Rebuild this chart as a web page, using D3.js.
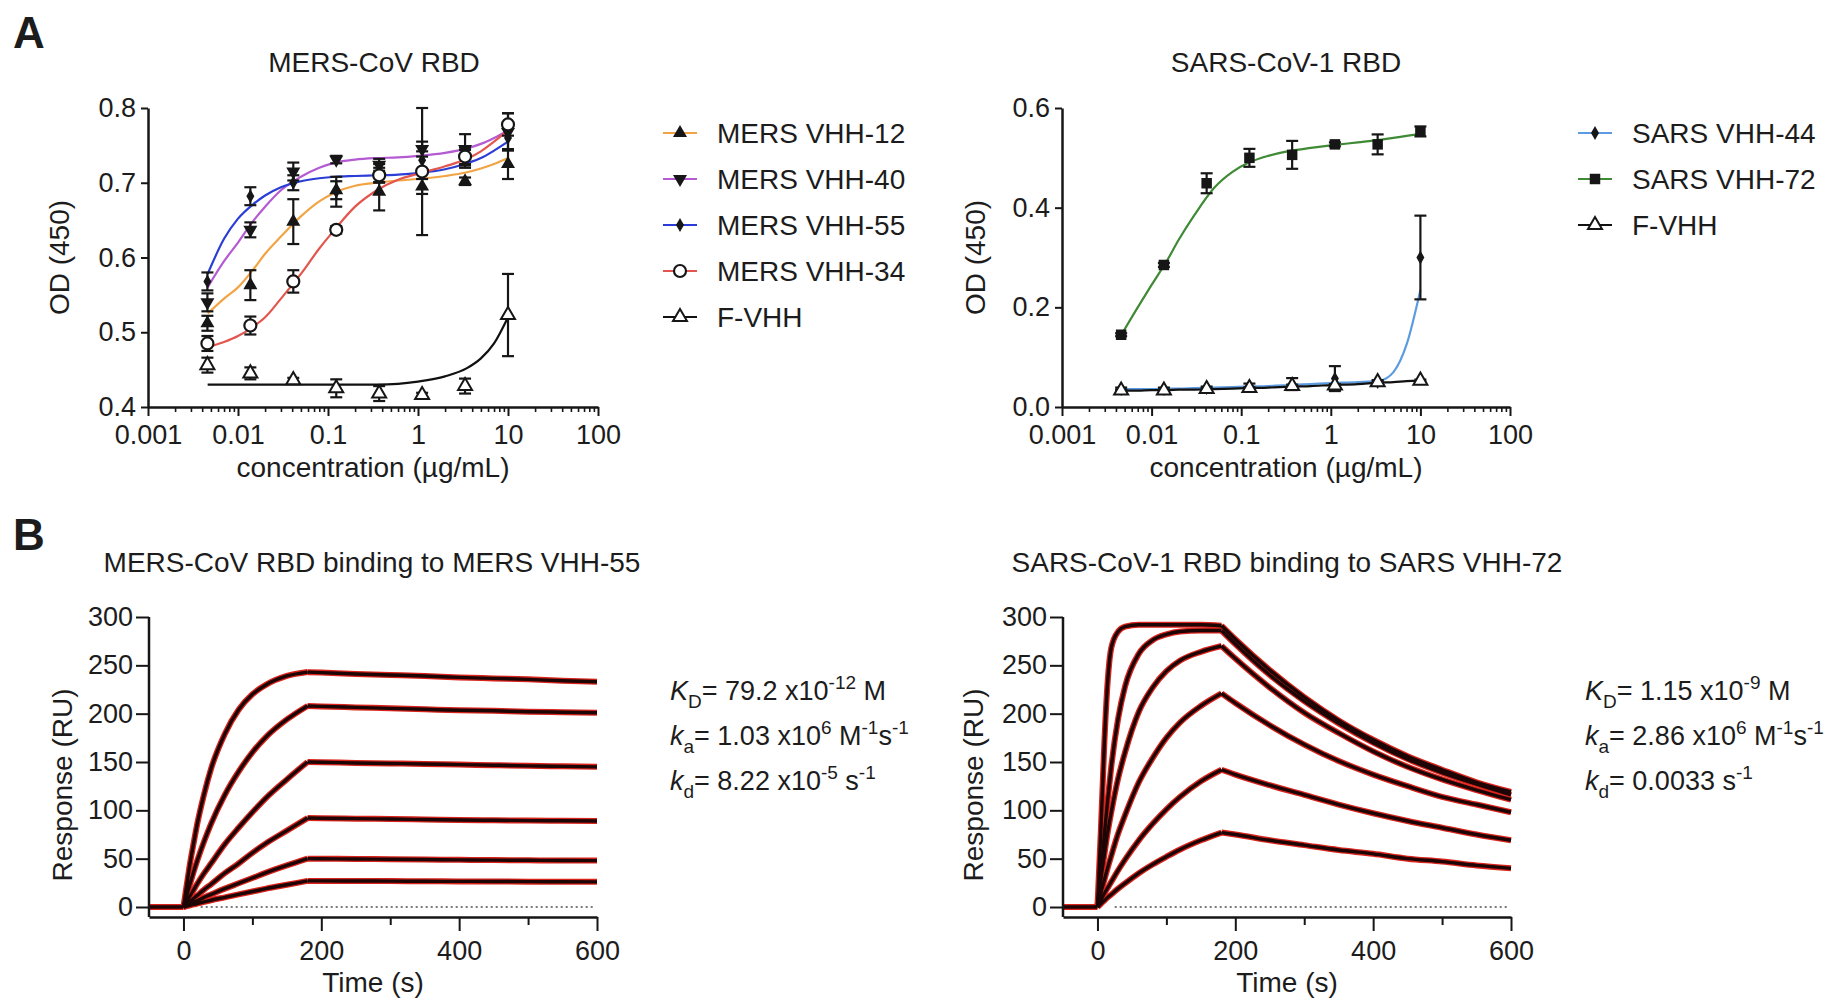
<!DOCTYPE html>
<html>
<head>
<meta charset="utf-8">
<script src="https://cdn.jsdelivr.net/npm/d3@7"></script>
<style>
    body { margin: 0; background: #fff; }
    svg { display: block; font-family: "Liberation Sans", Arial, Helvetica, sans-serif; }
</style>
</head>
<body>
<svg id="fig" width="1846" height="1003"></svg>
<script>
'use strict';

// ---- panel A : ELISA ----
var concentrations = [0.004572, 0.01372, 0.04115, 0.1235, 0.3704, 1.111, 3.333, 10];
var decadeTicks = [0.001, 0.01, 0.1, 1, 10, 100];
var fitConc = [0.0046, 0.007, 0.01, 0.015, 0.02, 0.03, 0.05, 0.08, 0.12, 0.2, 0.35, 0.6, 1, 2, 3.5, 5, 7, 10];

var mersNames = ['MERS VHH-12', 'MERS VHH-40', 'MERS VHH-55', 'MERS VHH-34', 'F-VHH'];
var mersColors = ['#f2a444', '#b45ad2', '#2a3ed6', '#e2564e', '#111111'];
var mersShapes = ['up', 'down', 'diamond', 'circle', 'opentri'];
var mersMeans = [
    [0.512, 0.563, 0.648, 0.690, 0.688, 0.695, 0.702, 0.725],
    [0.540, 0.637, 0.715, 0.731, 0.724, 0.745, 0.745, 0.768],
    [0.568, 0.682, 0.700, 0.688, 0.713, 0.730, 0.732, 0.760],
    [0.485, 0.509, 0.568, 0.637, 0.710, 0.715, 0.735, 0.778],
    [0.456, 0.445, 0.436, 0.425, 0.418, 0.416, 0.428, 0.523]
];
var mersSd = [
    [0.010, 0.020, 0.030, 0.012, 0.025, 0.010, 0.005, 0.020],
    [0.012, 0.010, 0.012, 0.005, 0.008, 0.010, 0.020, 0.025],
    [0.012, 0.012, 0.010, 0.020, 0.012, 0.012, 0.012, 0.015],
    [0.010, 0.012, 0.015, 0.005, 0.010, 0.085, 0.012, 0.015],
    [0.010, 0.008, 0.003, 0.012, 0.010, 0.003, 0.010, 0.055]
];
var mersFits = [
    [0.525, 0.545, 0.560, 0.585, 0.605, 0.628, 0.655, 0.675, 0.687, 0.696, 0.700, 0.703, 0.705, 0.709, 0.714, 0.719, 0.725, 0.733],
    [0.560, 0.595, 0.620, 0.650, 0.668, 0.690, 0.708, 0.720, 0.727, 0.731, 0.733, 0.734, 0.736, 0.740, 0.746, 0.752, 0.760, 0.770],
    [0.578, 0.625, 0.652, 0.672, 0.683, 0.694, 0.702, 0.706, 0.708, 0.709, 0.710, 0.711, 0.713, 0.718, 0.726, 0.733, 0.743, 0.755],
    [0.480, 0.487, 0.495, 0.508, 0.520, 0.545, 0.578, 0.612, 0.638, 0.668, 0.690, 0.704, 0.712, 0.722, 0.732, 0.742, 0.755, 0.770],
    [0.430, 0.430, 0.430, 0.430, 0.430, 0.430, 0.430, 0.430, 0.430, 0.430, 0.430, 0.431, 0.434, 0.441, 0.452, 0.465, 0.485, 0.520]
];
var mersTicks = [0.4, 0.5, 0.6, 0.7, 0.8];

var sarsNames = ['SARS VHH-44', 'SARS VHH-72', 'F-VHH'];
var sarsColors = ['#5d9be0', '#3f8a34', '#111111'];
var sarsShapes = ['diamond', 'square', 'opentri'];
var sarsMeans = [
    [0.036, 0.036, 0.038, 0.042, 0.046, 0.057, 0.050, 0.300],
    [0.145, 0.285, 0.449, 0.500, 0.506, 0.527, 0.527, 0.553],
    [0.033, 0.033, 0.036, 0.038, 0.042, 0.043, 0.050, 0.053]
];
var sarsSd = [
    [0.003, 0.003, 0.003, 0.005, 0.012, 0.025, 0.004, 0.084],
    [0.003, 0.004, 0.020, 0.018, 0.028, 0.004, 0.020, 0.010],
    [0.002, 0.002, 0.002, 0.002, 0.003, 0.003, 0.002, 0.002]
];
var sarsFits = [
    [0.036, 0.036, 0.036, 0.037, 0.037, 0.038, 0.039, 0.040, 0.041, 0.042, 0.044, 0.046, 0.048, 0.050, 0.053, 0.070, 0.125, 0.235],
    [0.145, 0.200, 0.245, 0.295, 0.335, 0.385, 0.440, 0.472, 0.490, 0.504, 0.514, 0.520, 0.525, 0.531, 0.536, 0.540, 0.544, 0.548],
    [0.033, 0.033, 0.034, 0.034, 0.035, 0.035, 0.036, 0.037, 0.038, 0.039, 0.041, 0.042, 0.044, 0.046, 0.049, 0.050, 0.052, 0.053]
];
var sarsTicks = [0.0, 0.2, 0.4, 0.6];

// ---- panel B : SPR sensorgrams ----
var assocTime = [0, 5, 10, 15, 20, 30, 40, 60, 80, 100, 120, 150, 180];
var dissocTime = [200, 250, 300, 350, 400, 450, 500, 550, 600];
var timeTicks = [0, 200, 400, 600];
var timeMinor = [100, 300, 500];
var ruTicks = [0, 50, 100, 150, 200, 250, 300];

var mersAssoc = [
    [0, 24, 47, 67, 86, 117, 143, 179, 204, 220, 230, 239, 243],
    [0, 13, 25, 37, 48, 68, 86, 116, 140, 160, 176, 194, 208],
    [0, 6, 12, 18, 24, 35, 45, 65, 82, 98, 113, 132, 150],
    [0, 3, 6, 9, 12, 18, 23.5, 35, 45, 56, 66, 79, 92],
    [0, 1.7, 3.3, 5, 6.5, 10, 13, 19, 24.5, 30, 35.5, 43, 50],
    [0, 0.9, 1.8, 2.7, 3.5, 5.3, 7, 10, 13, 16, 19, 23, 27]
];
var mersDissoc = [
    [242.5, 241, 240, 239, 237.5, 236.5, 235.5, 234, 233],
    [207.5, 206.5, 205.5, 204.5, 203.5, 203, 202, 201.5, 201],
    [149.8, 149, 148.5, 148, 147.3, 146.7, 146, 145.5, 145],
    [91.8, 91.4, 91, 90.5, 90, 89.7, 89.4, 89.2, 89],
    [49.9, 49.7, 49.4, 49.1, 48.8, 48.5, 48.3, 48.1, 48],
    [27, 26.9, 26.8, 26.6, 26.5, 26.4, 26.2, 26.1, 26]
];
var sarsAssoc = [
    [0, 80, 170, 235, 268, 285, 290, 292, 292, 292, 292, 292, 291],
    [0, 35, 75, 112, 145, 195, 228, 262, 276, 282, 285, 286, 286],
    [0, 29, 54, 78, 98, 133, 160, 202, 227, 244, 255, 264, 270],
    [0, 15, 28, 41, 53, 76, 95, 129, 154, 175, 191, 208, 221],
    [0, 7, 14, 20, 26, 38, 49, 69, 86, 101, 114, 130, 142],
    [0, 3.4, 6.7, 10, 13, 19, 24.5, 35, 44, 52, 59.5, 69, 77]
];
var sarsDissoc = [
    [277, 245, 217, 193, 173, 156, 142, 129, 119],
    [272, 240, 213, 190, 170, 153, 139, 127, 116],
    [257, 227, 201, 180, 161, 145, 132, 121, 111],
    [211, 188, 168, 151, 137, 125, 114, 106, 98],
    [137, 126, 116, 106, 97, 89, 82, 75, 69],
    [75, 69, 64, 59, 55, 50, 47, 43, 40]
];

var mersKinetics = [
    [['K', 'i'], ['D', 'sub'], ['= 79.2 x10', 'n'], ['-12', 'sup'], [' M', 'n']],
    [['k', 'i'], ['a', 'sub'], ['= 1.03 x10', 'n'], ['6', 'sup'], [' M', 'n'], ['-1', 'sup'], ['s', 'n'], ['-1', 'sup']],
    [['k', 'i'], ['d', 'sub'], ['= 8.22 x10', 'n'], ['-5', 'sup'], [' s', 'n'], ['-1', 'sup']]
];
var sarsKinetics = [
    [['K', 'i'], ['D', 'sub'], ['= 1.15 x10', 'n'], ['-9', 'sup'], [' M', 'n']],
    [['k', 'i'], ['a', 'sub'], ['= 2.86 x10', 'n'], ['6', 'sup'], [' M', 'n'], ['-1', 'sup'], ['s', 'n'], ['-1', 'sup']],
    [['k', 'i'], ['d', 'sub'], ['= 0.0033 s', 'n'], ['-1', 'sup']]
];

var ink = '#161616';
var svg = d3.select('#fig');
svg.append('rect').attr('width', 1846).attr('height', 1003).attr('fill', '#fff');

var drawMarker = function (g, shape, x, y) {
    var m;
    if (shape === 'circle') {
        m = g.append('circle').attr('r', 6).attr('fill', '#fff').attr('stroke', ink).attr('stroke-width', 2.2);
    } else {
        var type = { up: d3.symbolTriangle, down: d3.symbolTriangle, opentri: d3.symbolTriangle,
            diamond: d3.symbolDiamond, square: d3.symbolSquare }[shape];
        var size = { up: 85, down: 85, opentri: 85, diamond: 55, square: 110 }[shape];
        m = g.append('path').attr('d', d3.symbol(type, size)());
        if (shape === 'opentri') {
            m.attr('fill', '#fff').attr('stroke', ink).attr('stroke-width', 2);
        } else {
            m.attr('fill', ink);
        }
    }
    m.attr('transform', 'translate(' + x + ',' + y + ')' + (shape === 'down' ? ' rotate(180)' : ''));
};

var styleAxis = function (sel) {
    sel.selectAll('path.domain').attr('stroke', ink).attr('stroke-width', 2.5);
    sel.selectAll('.tick line').attr('stroke', ink).attr('stroke-width', 2);
    sel.selectAll('text').attr('fill', '#1c1c1c').attr('font-size', 27)
        .attr('font-family', '"Liberation Sans", Arial, sans-serif');
};

var addText = function (txt, x, y, size, opts) {
    var t = svg.append('text').attr('x', x).attr('y', y).attr('font-size', size)
        .attr('fill', '#1c1c1c').text(txt);
    if (opts && opts.anchor) { t.attr('text-anchor', opts.anchor); }
    if (opts && opts.weight) { t.attr('font-weight', opts.weight); }
    if (opts && opts.rotate) { t.attr('transform', 'rotate(-90,' + x + ',' + y + ')').attr('dy', '0.35em'); }
    return t;
};

var elisaPanel = function (p) {
    var x = d3.scaleLog().domain([0.001, 100]).range([p.x0, p.x1]);
    var y = d3.scaleLinear().domain([p.ticks[0], p.ticks[p.ticks.length - 1]]).range([p.yBottom, p.yTop]);
    var g = svg.append('g');

    // fitted curves
    p.fits.forEach(function (vals, i) {
        var line = d3.line()
            .x(function (d, j) { return x(fitConc[j]); })
            .y(function (d) { return y(d); })
            .curve(d3.curveMonotoneX);
        g.append('path').attr('d', line(vals)).attr('fill', 'none')
            .attr('stroke', p.colors[i]).attr('stroke-width', 2.2);
    });

    // error bars
    p.means.forEach(function (vals, i) {
        vals.forEach(function (m, j) {
            var cx = x(concentrations[j]);
            var top = y(m + p.sd[i][j]), bot = y(m - p.sd[i][j]);
            var eb = g.append('g').attr('stroke', ink).attr('stroke-width', 2.2);
            eb.append('line').attr('x1', cx).attr('x2', cx).attr('y1', top).attr('y2', bot);
            eb.append('line').attr('x1', cx - 6).attr('x2', cx + 6).attr('y1', top).attr('y2', top);
            eb.append('line').attr('x1', cx - 6).attr('x2', cx + 6).attr('y1', bot).attr('y2', bot);
        });
    });

    // markers
    p.means.forEach(function (vals, i) {
        vals.forEach(function (m, j) {
            drawMarker(g, p.shapes[i], x(concentrations[j]), y(m));
        });
    });

    // axes
    var minor = [];
    decadeTicks.slice(0, -1).forEach(function (d) {
        for (var k = 2; k < 10; k++) { minor.push(d * k); }
    });
    var gx = svg.append('g').attr('transform', 'translate(0,' + p.yBottom + ')')
        .call(d3.axisBottom(x).tickValues(decadeTicks).tickFormat(function (d) { return String(d); })
            .tickSize(9).tickSizeOuter(0).tickPadding(9));
    styleAxis(gx);
    var gm = svg.append('g').attr('transform', 'translate(0,' + p.yBottom + ')')
        .call(d3.axisBottom(x).tickValues(minor).tickFormat('').tickSize(5).tickSizeOuter(0));
    gm.select('path.domain').remove();
    gm.selectAll('.tick line').attr('stroke', ink).attr('stroke-width', 1.6);
    var gy = svg.append('g').attr('transform', 'translate(' + p.x0 + ',0)')
        .call(d3.axisLeft(y).tickValues(p.ticks).tickFormat(d3.format('.1f'))
            .tickSize(7).tickSizeOuter(0).tickPadding(5));
    styleAxis(gy);

    addText(p.title, p.titleX, 72, 28, { anchor: 'middle' });
    addText('concentration (\u00b5g/mL)', (p.x0 + p.x1) / 2, 477, 28, { anchor: 'middle' });
    addText('OD (450)', p.yLabelX, (p.yTop + p.yBottom) / 2, 28, { anchor: 'middle', rotate: true });

    // legend
    p.names.forEach(function (name, i) {
        var ly = 133 + i * 46;
        svg.append('line').attr('x1', p.legendX - 17).attr('x2', p.legendX + 17)
            .attr('y1', ly).attr('y2', ly).attr('stroke', p.colors[i]).attr('stroke-width', 2);
        drawMarker(svg, p.shapes[i], p.legendX, ly);
        addText(name, p.legendX + 37, ly, 28).attr('dy', '0.35em');
    });
};

var sprPanel = function (p) {
    var x = d3.scaleLinear().domain([-50, 600]).range([p.x0, p.x1]);
    var y = d3.scaleLinear().domain([0, 300]).range([907, 617]);
    var axisY = 917;
    var g = svg.append('g');

    // dotted zero reference
    g.append('line').attr('x1', x(25)).attr('x2', x(598)).attr('y1', y(0)).attr('y2', y(0))
        .attr('stroke', '#7a7a7a').attr('stroke-width', 2).attr('stroke-dasharray', '2,3');

    var line = d3.line()
        .x(function (d) { return x(d[0]); })
        .y(function (d) { return y(d[1]); })
        .curve(d3.curveMonotoneX);

    var segments = [];
    segments.push([[-50, 0], [0, 0]]);
    p.assoc.forEach(function (vals, i) {
        segments.push(vals.map(function (v, j) { return [assocTime[j], v]; }));
        var d = [[180, vals[vals.length - 1]]].concat(p.dissoc[i].map(function (v, j) { return [dissocTime[j], v]; }));
        segments.push(d);
    });
    // red fit under, black data on top
    segments.forEach(function (s) {
        g.append('path').attr('d', line(s)).attr('fill', 'none').attr('stroke', '#d8241c')
            .attr('stroke-width', 6).attr('stroke-linejoin', 'round');
    });
    segments.forEach(function (s) {
        g.append('path').attr('d', line(s)).attr('fill', 'none').attr('stroke', '#1e0505')
            .attr('stroke-width', 3.4).attr('stroke-linejoin', 'round');
    });

    // axes
    var gx = svg.append('g').attr('transform', 'translate(0,' + axisY + ')')
        .call(d3.axisBottom(x).tickValues(timeTicks).tickSize(14).tickSizeOuter(0).tickPadding(10));
    styleAxis(gx);
    var gm = svg.append('g').attr('transform', 'translate(0,' + axisY + ')')
        .call(d3.axisBottom(x).tickValues(timeMinor).tickFormat('').tickSize(8).tickSizeOuter(0));
    gm.select('path.domain').remove();
    gm.selectAll('.tick line').attr('stroke', ink).attr('stroke-width', 2);
    var gy = svg.append('g').attr('transform', 'translate(' + p.x0 + ',0)')
        .call(d3.axisLeft(y).tickValues(ruTicks).tickSize(13).tickSizeOuter(0).tickPadding(3));
    styleAxis(gy);
    gy.select('path.domain').remove();
    svg.append('line').attr('x1', p.x0).attr('x2', p.x0).attr('y1', y(300)).attr('y2', axisY)
        .attr('stroke', ink).attr('stroke-width', 2.5);

    addText(p.title, p.titleX, 572, 28, { anchor: 'middle' });
    addText('Time (s)', x(275), 992, 28, { anchor: 'middle' });
    addText('Response (RU)', p.yLabelX, 785, 28, { anchor: 'middle', rotate: true });

    // kinetic constants
    p.kinetics.forEach(function (parts, i) {
        var t = svg.append('text').attr('x', p.kinX).attr('y', 700 + i * 45)
            .attr('font-size', 27).attr('fill', '#1c1c1c');
        var shift = 0;
        parts.forEach(function (part) {
            var ts = t.append('tspan').text(part[0]);
            var target = 0;
            if (part[1] === 'sub') { target = 8; ts.attr('font-size', 19); }
            if (part[1] === 'sup') { target = -11; ts.attr('font-size', 19); }
            if (part[1] === 'i') { ts.attr('font-style', 'italic'); }
            ts.attr('dy', target - shift);
            shift = target;
        });
    });
};

// panel letters
addText('A', 13, 48, 44, { weight: 'bold' });
addText('B', 13, 550, 44, { weight: 'bold' });

elisaPanel({
    x0: 148, x1: 598, yTop: 108, yBottom: 407, ticks: mersTicks,
    names: mersNames, colors: mersColors, shapes: mersShapes,
    means: mersMeans, sd: mersSd, fits: mersFits,
    title: 'MERS-CoV RBD', titleX: 374, yLabelX: 59, legendX: 680
});
elisaPanel({
    x0: 1062, x1: 1510, yTop: 108, yBottom: 407, ticks: sarsTicks,
    names: sarsNames, colors: sarsColors, shapes: sarsShapes,
    means: sarsMeans, sd: sarsSd, fits: sarsFits,
    title: 'SARS-CoV-1 RBD', titleX: 1286, yLabelX: 975, legendX: 1595
});

sprPanel({
    x0: 149, x1: 597, assoc: mersAssoc, dissoc: mersDissoc,
    title: 'MERS-CoV RBD binding to MERS VHH-55', titleX: 372, yLabelX: 62,
    kinetics: mersKinetics, kinX: 670
});
sprPanel({
    x0: 1063, x1: 1511, assoc: sarsAssoc, dissoc: sarsDissoc,
    title: 'SARS-CoV-1 RBD binding to SARS VHH-72', titleX: 1287, yLabelX: 973,
    kinetics: sarsKinetics, kinX: 1585
});
</script>
</body>
</html>
